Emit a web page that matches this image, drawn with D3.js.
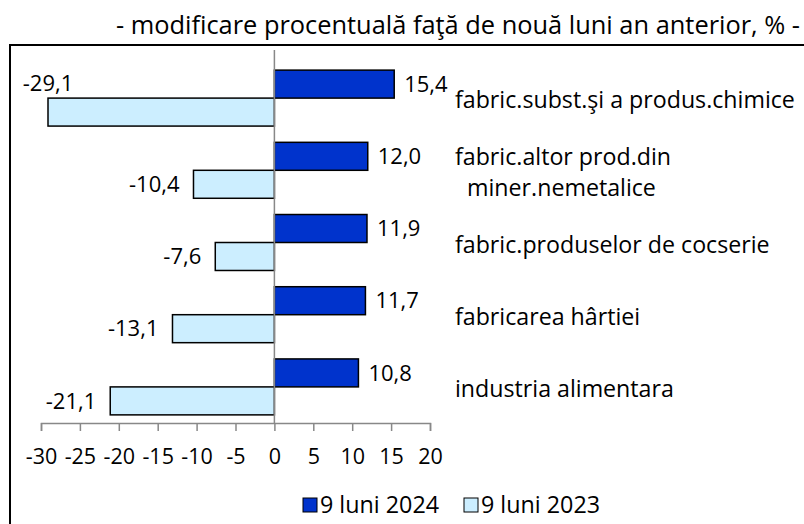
<!DOCTYPE html>
<html>
<head>
<meta charset="utf-8">
<script src="https://cdn.jsdelivr.net/npm/d3@7"></script>
<style>
  body { margin: 0; background: #fff; }
  text { font-family: "Open Sans", sans-serif; fill: #000; }
</style>
</head>
<body>
<div id="chart"></div>
<script>
// data
var categories = [
  ["fabric.subst.şi a produs.chimice"],
  ["fabric.altor prod.din", "  miner.nemetalice"],
  ["fabric.produselor de cocserie"],
  ["fabricarea hârtiei"],
  ["industria alimentara"]
];
var series = ["9 luni 2024", "9 luni 2023"];
var values2024 = [15.4, 12.0, 11.9, 11.7, 10.8];
var values2023 = [-29.1, -10.4, -7.6, -13.1, -21.1];
var xTicks = [-30, -25, -20, -15, -10, -5, 0, 5, 10, 15, 20];
var title = "- modificare procentuală faţă de nouă luni an anterior, % -";
var colors = ["#0033cc", "#cceeff"];

var W = 804, H = 524;
var svg = d3.select("#chart").append("svg")
  .attr("width", W).attr("height", H);

// outer frame
svg.append("rect")
  .attr("x", 10).attr("y", 45).attr("width", 800).attr("height", 500)
  .attr("fill", "none").attr("stroke", "#000").attr("stroke-width", 2);

svg.append("text")
  .attr("x", 800).attr("y", 34)
  .attr("text-anchor", "end")
  .style("font-size", "25.4px")
  .text(title);

var x = d3.scaleLinear().domain([-30, 20]).range([41, 430]);
var y = d3.scaleBand()
  .domain(d3.range(categories.length))
  .range([62, 423])
  .paddingInner(0.225)
  .paddingOuter(0.1125);
var ySub = d3.scaleBand().domain([0, 1]).range([0, y.bandwidth()]);

var rows = categories.map(function(c, i) {
  return { i: i, label: c, v: [values2024[i], values2023[i]] };
});

// axis
var axisY = 423;
var xAxis = svg.append("g")
  .attr("transform", "translate(0," + axisY + ")")
  .call(d3.axisBottom(x).tickValues(xTicks).tickSize(8).tickPadding(18)
    .tickFormat(function(d) { return String(d); }));
xAxis.select(".domain").attr("stroke", "#888").attr("stroke-width", 1.5);
xAxis.selectAll(".tick line").attr("stroke", "#888").attr("stroke-width", 1.5);
xAxis.selectAll(".tick text")
  .style("font-size", "21.5px")
  .style("font-family", "'Open Sans', sans-serif")
  .attr("fill", "#000");

// bars
var groups = svg.selectAll(".grp")
  .data(rows).enter().append("g")
  .attr("transform", function(d) { return "translate(0," + y(d.i) + ")"; });

groups.selectAll("rect")
  .data(function(d) { return d.v.map(function(v, s) { return { v: v, s: s }; }); })
  .enter().append("rect")
    .attr("x", function(d) { return x(Math.min(0, d.v)); })
    .attr("y", function(d) { return ySub(d.s); })
    .attr("width", function(d) { return Math.abs(x(d.v) - x(0)); })
    .attr("height", ySub.bandwidth())
    .attr("fill", function(d) { return colors[d.s]; })
    .attr("stroke", "#000")
    .attr("stroke-width", 1.5);

// zero line
svg.append("line")
  .attr("x1", x(0)).attr("x2", x(0))
  .attr("y1", 50).attr("y2", axisY)
  .attr("stroke", "#888").attr("stroke-width", 1.5);

// value labels
groups.selectAll(".val")
  .data(function(d) { return d.v.map(function(v, s) { return { v: v, s: s }; }); })
  .enter().append("text")
    .style("font-size", "22px")
    .attr("dy", "0.35em")
    .each(function(d) {
      var t = d3.select(this);
      var label = d.v.toFixed(1).replace(".", ",");
      var cy = ySub(d.s) + ySub.bandwidth() / 2;
      if (d.v >= 0) {
        t.attr("x", x(d.v) + 10).attr("y", cy).attr("text-anchor", "start");
      } else if (x(d.v) < 90) {
        // no room on the left: put it above the bar
        t.attr("x", x(d.v)).attr("y", cy - ySub.bandwidth() - 1).attr("text-anchor", "middle");
      } else {
        t.attr("x", x(d.v) - 14).attr("y", cy).attr("text-anchor", "end");
      }
      t.text(label);
    });

// category labels
groups.append("text")
  .attr("x", 455)
  .style("font-size", "23.2px")
  .each(function(d) {
    var t = d3.select(this);
    var n = d.label.length;
    d.label.forEach(function(line, k) {
      t.append("tspan")
        .attr("x", 455)
        .attr("y", y.bandwidth() / 2 + 2 + (k - (n - 1) / 2) * 31)
        .attr("dy", "0.35em")
        .attr("xml:space", "preserve")
        .style("white-space", "pre")
        .text(line);
    });
  });

// legend
var legend = svg.append("g").attr("transform", "translate(303,505)");
var lx = [0, 161];
series.forEach(function(s, i) {
  legend.append("rect")
    .attr("x", lx[i]).attr("y", -7).attr("width", 14).attr("height", 14)
    .attr("fill", colors[i]).attr("stroke", "#000").attr("stroke-width", 1);
  legend.append("text")
    .attr("x", lx[i] + 17).attr("y", 0).attr("dy", "0.35em")
    .style("font-size", "23.3px")
    .text(s);
});
</script>
</body>
</html>
